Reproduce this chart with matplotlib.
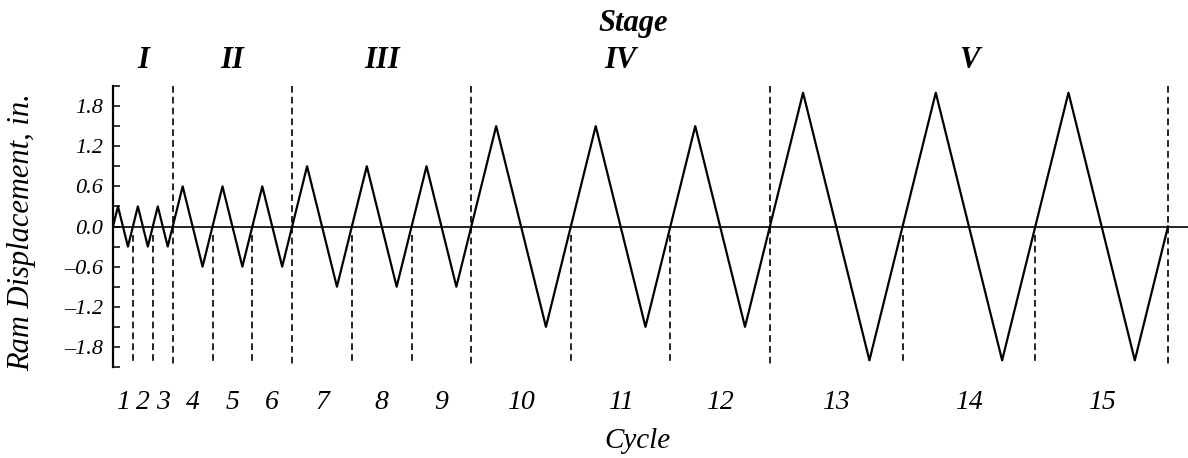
import numpy as np
import matplotlib.pyplot as plt

# peak / valley displacement (in.) of each cycle
cycles = [1, 2, 3, 4, 5, 6, 7, 8, 9, 10, 11, 12, 13, 14, 15]
peaks = [0.3, 0.3, 0.3, 0.6, 0.6, 0.6, 0.9, 0.9, 0.9, 1.5, 1.5, 1.5, 2.0, 2.0, 2.0]
valleys = [-0.3, -0.3, -0.3, -0.6, -0.6, -0.6, -0.9, -0.9, -0.9, -1.5, -1.5, -1.5, -2.0, -2.0, -2.0]
stages = ['I', 'II', 'III', 'IV', 'V']
stage_ends = [3, 6, 9, 12, 15]  # last cycle of each stage
yticks = [-1.8, -1.2, -0.6, 0.0, 0.6, 1.2, 1.8]

plt.rcParams['font.family'] = 'Liberation Serif'
plt.rcParams['font.style'] = 'italic'

# constant ram speed -> time axis is the cumulative travel
t = [0.0]
y = [0.0]
bounds = [0.0]
for p, v in zip(peaks, valleys):
    t0 = t[-1]
    t += [t0 + p, t0 + 2*p, t0 + 2*p - v, t0 + 2*p - 2*v]
    y += [p, 0.0, v, 0.0]
    bounds.append(t[-1])
t = np.array(t)
bounds = np.array(bounds)

fig = plt.figure(figsize=(11.88, 4.58), dpi=100)
ax = fig.add_axes([113/1188, 91/458, 1075/1188, 281/458])

xmax = bounds[-1] * 1075 / 1055
ax.plot(t, y, color='black', lw=1.6)
ax.axhline(0, color='black', lw=1.2)

for i, b in enumerate(bounds[1:]):
    if cycles[i] in stage_ends:
        ax.plot([b, b], [2.1, -2.07], color='black', lw=1.2, ls=(0, (4, 2.5)), clip_on=False)
    else:
        ax.plot([b, b], [-0.13, -2.07], color='black', lw=1.2, ls=(0, (4, 2.5)), clip_on=False)

ax.set_xlim(0, xmax)
ax.set_ylim(-2.1, 2.1)
ax.set_yticks(yticks)
ax.set_yticklabels([('%.1f' % v).replace('-', '\u2013') for v in yticks])
ax.set_yticks(np.arange(-2.1, 2.2, 0.6), minor=True)
ax.tick_params(axis='y', which='both', direction='in', length=5, width=1.1, pad=7, labelsize=16)
ax.set_xticks([])
for s in ['top', 'right', 'bottom']:
    ax.spines[s].set_visible(False)
ax.spines['left'].set_linewidth(1.6)

tr = ax.get_xaxis_transform()
centers = (bounds[:-1] + bounds[1:]) / 2
for c, xc in zip(cycles, centers):
    ax.text(xc, -0.1246, str(c), transform=tr, ha='center', va='center', fontsize=20)

starts = [0] + stage_ends[:-1]
for s, a, b in zip(stages, starts, stage_ends):
    xc = (bounds[a] + bounds[b]) / 2
    ax.text(xc, 1.0925, s, transform=tr, ha='center', va='center', fontsize=22, fontweight='bold')

fig.text(633/1188, 1 - 23/458, 'Stage', ha='center', va='center', fontsize=22, fontweight='bold')
fig.text(637/1188, 4/458, 'Cycle', ha='center', va='bottom', fontsize=21)
fig.text(22/1188, 1 - 232/458, 'Ram Displacement, in.', rotation=90, ha='center', va='center', fontsize=22)

fig.savefig('out.png', dpi=100)
